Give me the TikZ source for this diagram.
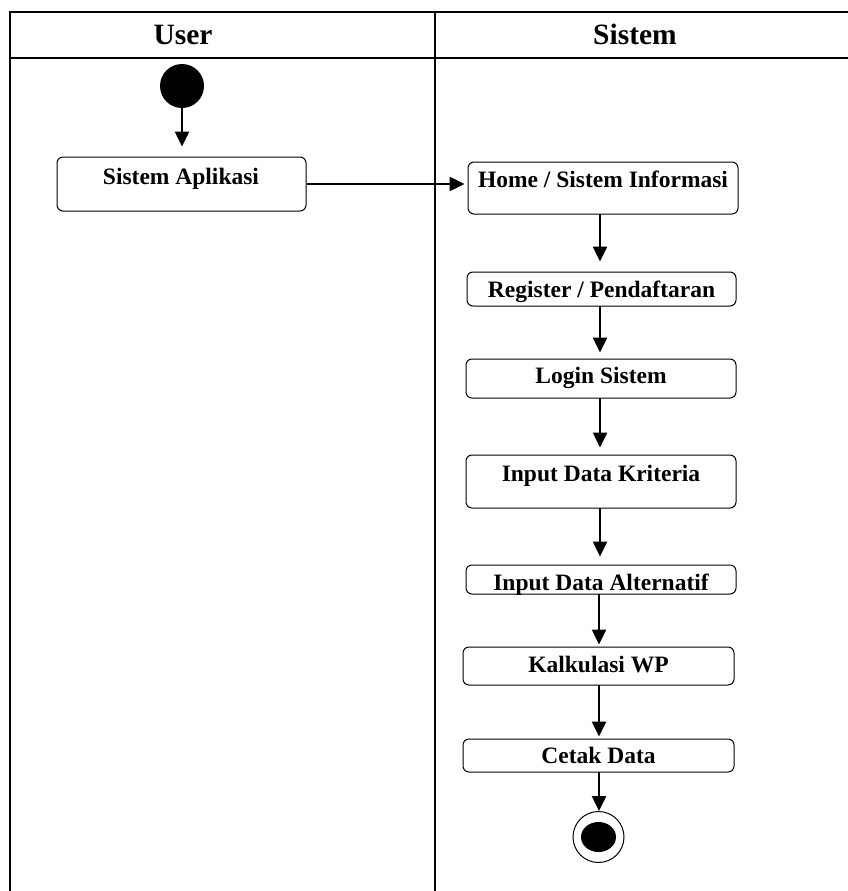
\documentclass[tikz,border=0pt]{standalone}
\usepackage{fontspec}
\setmainfont{Liberation Serif}
\usetikzlibrary{arrows.meta}
\begin{document}
\begin{tikzpicture}[x=1pt,y=-1pt,
  frame/.style={line width=2pt},
  actbox/.style={draw, rectangle, rounded corners=6pt, line width=1pt, inner sep=0pt},
  lbl/.style={anchor=base, inner sep=0pt, font=\fontsize{23.5}{26}\selectfont\bfseries},
  hdr/.style={anchor=base, inner sep=0pt, font=\fontsize{29.5}{32}\selectfont\bfseries},
  flow/.style={line width=2.5pt, -{Triangle[length=15pt,width=14pt]}}]
\useasboundingbox (0,0) rectangle (848,891);
% swimlane frame
\coordinate (tl) at (9.5,12);
\coordinate (tr) at (848,12);
\coordinate (hl) at (9.5,58);
\coordinate (hr) at (848,58);
\coordinate (bl) at (9.5,891);
\coordinate (dt) at (435,12);
\coordinate (db) at (435,891);
\draw[frame] (tr) -- (tl) -- (bl);
\draw[frame] (hl) -- (hr);
\draw[frame] (dt) -- (db);
\node[hdr] (huser) at (183,45) {User};
\node[hdr] (hsis) at (635,45) {Sistem};
% start
\node[circle, fill=black, minimum size=44pt, inner sep=0pt] (start) at (182,86) {};
% boxes
\node[actbox, minimum width=249pt, minimum height=54pt] (sa) at (181.5,184) {};
\node[actbox, minimum width=270pt, minimum height=52pt] (home) at (603,188) {};
\node[actbox, minimum width=269pt, minimum height=34pt] (reg) at (601.5,289) {};
\node[actbox, minimum width=270pt, minimum height=39pt] (login) at (601,378.5) {};
\node[actbox, minimum width=270pt, minimum height=53pt] (krit) at (601,481.5) {};
\node[actbox, minimum width=270pt, minimum height=29pt] (alt) at (601,579.5) {};
\node[actbox, minimum width=271pt, minimum height=38pt] (kalk) at (598.5,666) {};
\node[actbox, minimum width=271pt, minimum height=33pt] (cetak) at (598.5,755.5) {};
% labels
\node[lbl] (tsa) at (181,184) {Sistem Aplikasi};
\node[lbl] (thome) at (603,187) {Home / Sistem Informasi};
\node[lbl] (treg) at (601.5,297) {Register / Pendaftaran};
\node[lbl] (tlogin) at (601,383) {Login Sistem};
\node[lbl] (tkrit) at (601,481) {Input Data Kriteria};
\node[lbl] (talt) at (601,590) {Input Data Alternatif};
\node[lbl] (tkalk) at (598.5,672) {Kalkulasi WP};
\node[lbl] (tcetak) at (598.5,763) {Cetak Data};
% end node
\node[circle, draw, line width=1pt, minimum size=51pt, inner sep=0pt] (end) at (598.5,837) {};
\fill (end.center) ellipse [x radius=17.5pt, y radius=15pt];
% flows
\draw[flow, shorten >=10pt] (start.south) -- (start.south |- sa.north);
\draw[flow, shorten >=3pt] (sa.east) -- (sa.east -| home.west);
\draw[flow, shorten >=10pt] (600,214) coordinate (h1) -- (h1 |- reg.north);
\draw[flow, shorten >=6pt] (600,306) coordinate (r1) -- (r1 |- login.north);
\draw[flow, shorten >=7pt] (600,398) coordinate (l1) -- (l1 |- krit.north);
\draw[flow, shorten >=8pt] (600,508) coordinate (k1) -- (k1 |- alt.north);
\draw[flow, shorten >=2pt] (599,594) coordinate (a1) -- (a1 |- kalk.north);
\draw[flow, shorten >=2pt] (599,685) coordinate (c1) -- (c1 |- cetak.north);
\draw[flow] (599,772) coordinate (e1) -- (e1 |- end.north);
\end{tikzpicture}
\end{document}
